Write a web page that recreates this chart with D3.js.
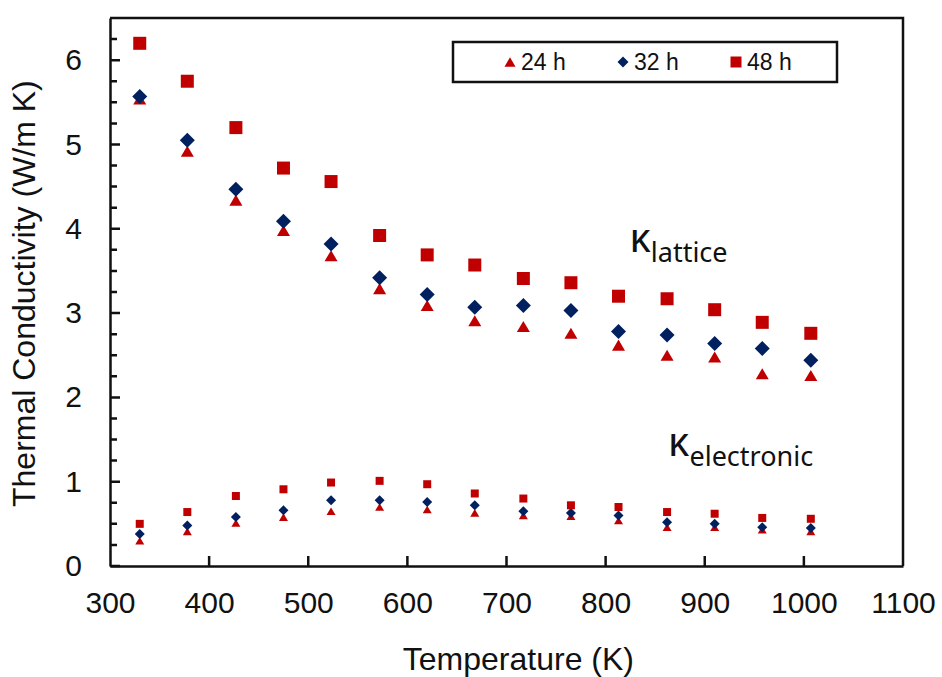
<!DOCTYPE html>
<html>
<head>
<meta charset="utf-8">
<script src="https://cdn.jsdelivr.net/npm/d3@7"></script>
<style>
  body { margin: 0; background: #fff; }
  text { font-family: "Liberation Sans", Arial, sans-serif; fill: #111; }
</style>
</head>
<body>
<script>
// data
var temps = [330, 378, 427, 475, 523, 572, 620, 668, 717, 765, 813, 862, 910, 958, 1007];

var lattice24 = [5.54, 4.92, 4.34, 3.98, 3.68, 3.29, 3.09, 2.91, 2.84, 2.76, 2.62, 2.50, 2.48, 2.28, 2.26];
var lattice32 = [5.57, 5.05, 4.47, 4.09, 3.82, 3.42, 3.22, 3.07, 3.09, 3.03, 2.78, 2.74, 2.64, 2.58, 2.44];
var lattice48 = [6.20, 5.75, 5.20, 4.72, 4.56, 3.92, 3.69, 3.57, 3.41, 3.36, 3.20, 3.17, 3.04, 2.89, 2.76];

var elec24 = [0.30, 0.41, 0.51, 0.58, 0.65, 0.70, 0.67, 0.63, 0.60, 0.59, 0.54, 0.46, 0.46, 0.43, 0.41];
var elec32 = [0.38, 0.48, 0.58, 0.66, 0.78, 0.78, 0.76, 0.72, 0.65, 0.63, 0.60, 0.52, 0.50, 0.46, 0.45];
var elec48 = [0.50, 0.64, 0.83, 0.91, 0.99, 1.01, 0.97, 0.86, 0.80, 0.72, 0.70, 0.64, 0.62, 0.57, 0.56];

var seriesNames = ["24 h", "32 h", "48 h"];
var xTicks = [300, 400, 500, 600, 700, 800, 900, 1000, 1100];
var yTicks = [0, 1, 2, 3, 4, 5, 6];

var svgWidth = 942;
var svgHeight = 677;

var margin = { top: 18, bottom: 111, right: 39, left: 110 };
var chartWidth = svgWidth - margin.left - margin.right;
var chartHeight = svgHeight - margin.top - margin.bottom;

var red = "#C00000";
var navy = "#002060";
var ink = "#111";

var svg = d3.select("body")
    .append("svg")
    .attr("width", svgWidth)
    .attr("height", svgHeight);

var chartGroup = svg.append("g")
    .attr("transform", `translate(${margin.left},${margin.top})`);

var x = d3.scaleLinear().domain([300, 1100]).range([0, chartWidth]);
var y = d3.scaleLinear().domain([0, 6.5]).range([chartHeight, 0]);

// marker shapes, centred on their bounding box
function marker(shape, s) {
    var h = s / 2;
    if (shape === "tri") {
        var th = s * 0.85 / 2;
        return `M0,${-th}L${h},${th}L${-h},${th}Z`;
    }
    if (shape === "dia") {
        return `M0,${-h}L${h},0L0,${h}L${-h},0Z`;
    }
    return `M${-h},${-h}H${h}V${h}H${-h}Z`;
}

// frame (top and right)
chartGroup.append("path")
    .attr("d", `M0,0H${chartWidth}V${chartHeight}`)
    .attr("fill", "none")
    .attr("stroke", ink)
    .attr("stroke-width", 2.5);

// x axis
var xAxis = d3.axisBottom(x)
    .tickValues(xTicks)
    .tickFormat(d3.format("d"))
    .tickSize(0)
    .tickPadding(26);
var gx = chartGroup.append("g")
    .attr("transform", `translate(0,${chartHeight})`)
    .call(xAxis);
gx.select(".domain").attr("stroke", ink).attr("stroke-width", 2.5);
gx.selectAll("text")
    .attr("font-size", "30px")
    .attr("font-family", "Liberation Sans, Arial, sans-serif")
    .attr("fill", ink);

// y axis
var yAxis = d3.axisLeft(y)
    .tickValues(yTicks)
    .tickFormat(d3.format("d"))
    .tickSize(0)
    .tickPadding(28);
var gy = chartGroup.append("g").call(yAxis);
gy.select(".domain").attr("stroke", ink).attr("stroke-width", 2.5);
gy.selectAll("text")
    .attr("font-size", "30px")
    .attr("font-family", "Liberation Sans, Arial, sans-serif")
    .attr("fill", ink);

// tick marks pointing inward: y every 0.25, x every 100
var yMinor = d3.range(0, 6.5, 0.25);
chartGroup.append("path")
    .attr("d", yMinor.map(d => `M0,${y(d)}h${d % 1 === 0 ? 10 : 7}`).join(""))
    .attr("fill", "none")
    .attr("stroke", ink)
    .attr("stroke-width", 2.5);

chartGroup.append("path")
    .attr("d", xTicks.slice(1, -1).map(d => `M${x(d)},${chartHeight}v-10`).join(""))
    .attr("fill", "none")
    .attr("stroke", ink)
    .attr("stroke-width", 2.5);

// points: triangles first, then diamonds, then squares
var groups = [
    { vals: lattice24, shape: "tri", color: red, size: 13 },
    { vals: lattice32, shape: "dia", color: navy, size: 15 },
    { vals: lattice48, shape: "sq", color: red, size: 13 },
    { vals: elec24, shape: "tri", color: red, size: 9 },
    { vals: elec32, shape: "dia", color: navy, size: 10 },
    { vals: elec48, shape: "sq", color: red, size: 8 }
];

groups.forEach(g => {
    chartGroup.append("g")
        .selectAll("path")
        .data(g.vals)
        .enter()
        .append("path")
        .attr("transform", (d, i) => `translate(${x(temps[i])},${y(d)})`)
        .attr("d", marker(g.shape, g.size))
        .attr("fill", g.color);
});

// annotations
var kLat = chartGroup.append("text")
    .attr("x", x(824))
    .attr("y", y(3.72))
    .style("font-family", "'Noto Sans', 'Open Sans', sans-serif");
kLat.append("tspan").attr("font-size", "40px").text("κ");
kLat.append("tspan").attr("font-size", "27px").attr("dy", 10).text("lattice");

var kEl = chartGroup.append("text")
    .attr("x", x(863))
    .attr("y", y(1.3))
    .style("font-family", "'Noto Sans', 'Open Sans', sans-serif");
kEl.append("tspan").attr("font-size", "40px").text("κ");
kEl.append("tspan").attr("font-size", "27px").attr("dy", 10).text("electronic");

// legend
var legend = svg.append("g").attr("transform", "translate(453,42)");
legend.append("rect")
    .attr("width", 384)
    .attr("height", 40)
    .attr("fill", "#fff")
    .attr("stroke", ink)
    .attr("stroke-width", 2.5);

var legendShapes = [
    { shape: "tri", color: red, x: 57 },
    { shape: "dia", color: navy, x: 170 },
    { shape: "sq", color: red, x: 283 }
];
legendShapes.forEach((s, i) => {
    legend.append("path")
        .attr("transform", `translate(${s.x},20)`)
        .attr("d", marker(s.shape, 11))
        .attr("fill", s.color);
    legend.append("text")
        .attr("x", s.x + 11)
        .attr("y", 28)
        .attr("font-size", "23px")
        .text(seriesNames[i]);
});

// axis titles
chartGroup.append("text")
    .attr("x", x(712))
    .attr("y", chartHeight + 104)
    .attr("text-anchor", "middle")
    .attr("font-size", "32px")
    .text("Temperature (K)");

chartGroup.append("text")
    .attr("transform", "rotate(-90)")
    .attr("x", -(507 - margin.top))
    .attr("y", -75)
    .attr("font-size", "32px")
    .text("Thermal Conductivity (W/m K)");
</script>
</body>
</html>
